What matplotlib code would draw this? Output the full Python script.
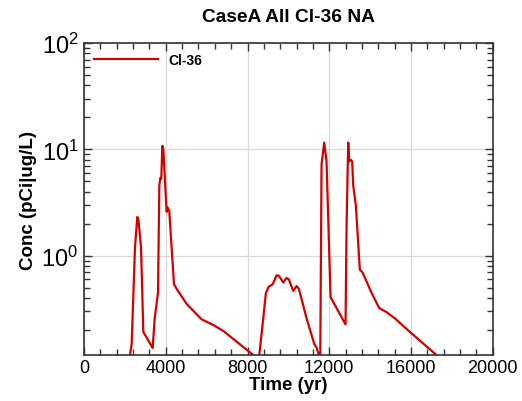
import numpy as np
import matplotlib
matplotlib.use("Agg")
import matplotlib.pyplot as plt
from matplotlib.ticker import LogLocator, MultipleLocator, NullFormatter

plt.rcParams["font.family"] = ["Liberation Sans", "DejaVu Sans"]
plt.rcParams["mathtext.fontset"] = "custom"
plt.rcParams["mathtext.rm"] = "Liberation Sans"

# Cl-36 concentration vs time
time_yr = [
    2150, 2249, 2331, 2494, 2608, 2660, 2787, 2901, 3358, 3456, 3619, 3684,
    3733, 3780, 3831, 3880, 4042, 4091, 4170, 4401, 4531, 5021, 5755, 6324,
    6814, 8281, 8420, 8574, 8770, 8900, 9031, 9227, 9308, 9421, 9535, 9747,
    9910, 10024, 10236, 10399, 10513, 10888, 11263, 11377, 11491, 11520,
    11560, 11621, 11752, 11866, 12062, 12796, 12845, 12927, 12975, 13040,
    13122, 13171, 13301, 13496, 13627, 14067, 14442, 14800, 15208, 15941,
    17245, 17500,
]
conc = [
    0.05, 0.117, 0.149, 1.22, 2.32, 2.2, 1.22, 0.193, 0.136, 0.259, 0.45, 4.6,
    5.4, 5.3, 10.8, 10.0, 2.59, 2.85, 2.65, 0.542, 0.49, 0.353, 0.253, 0.224,
    0.197, 0.117, 0.09, 0.117, 0.259, 0.45, 0.511, 0.54, 0.584, 0.656, 0.65, 0.562,
    0.62, 0.60, 0.468, 0.52, 0.49, 0.259, 0.149, 0.137, 0.117, 0.05,
    0.117, 7.2, 11.6, 7.7, 0.41, 0.227, 1.9, 11.6, 7.7, 8.0,
    7.7, 4.6, 2.96, 0.739, 0.70, 0.45, 0.323, 0.296, 0.259, 0.193,
    0.117, 0.10,
]

fig = plt.figure(figsize=(5.22, 4.02), dpi=100)
ax = fig.add_axes([0.161, 0.1144, 0.783, 0.7761])

ax.plot(time_yr, conc, color="#d40000", lw=1.6, label="Cl-36")

ax.set_yscale("log")
ax.set_xlim(0, 20000)
ax.set_ylim(0.117, 100)

ax.xaxis.set_major_locator(MultipleLocator(4000))
ax.xaxis.set_minor_locator(MultipleLocator(800))
ax.yaxis.set_major_locator(LogLocator(base=10, numticks=10))
ax.yaxis.set_minor_locator(LogLocator(base=10, subs=np.arange(2, 10), numticks=20))
ax.yaxis.set_minor_formatter(NullFormatter())

ax.grid(True, which="major", color="#d9d9d9", lw=0.9)
ax.set_axisbelow(True)
ax.tick_params(which="both", direction="in", top=True, right=True, color="#333333")
ax.tick_params(which="major", length=6, width=1)
ax.tick_params(which="minor", length=4, width=1)
ax.tick_params(axis="x", labelsize=13, pad=3)
ax.tick_params(axis="y", labelsize=17, pad=4)
for s in ax.spines.values():
    s.set_color("#333333")
    s.set_linewidth(1.2)

ax.set_title("CaseA All Cl-36 NA", fontsize=13.8, fontweight="bold", pad=16)
ax.set_xlabel("Time (yr)", fontsize=13.5, fontweight="bold", labelpad=0)
ax.set_ylabel("Conc (pCi|ug/L)", fontsize=13.5, fontweight="bold", labelpad=3)

leg = ax.legend(loc="upper left", frameon=False, handlelength=4.6,
                prop={"weight": "bold", "size": 10}, borderaxespad=0.3,
                handletextpad=0.8)

fig.savefig("out.png", dpi=100)
